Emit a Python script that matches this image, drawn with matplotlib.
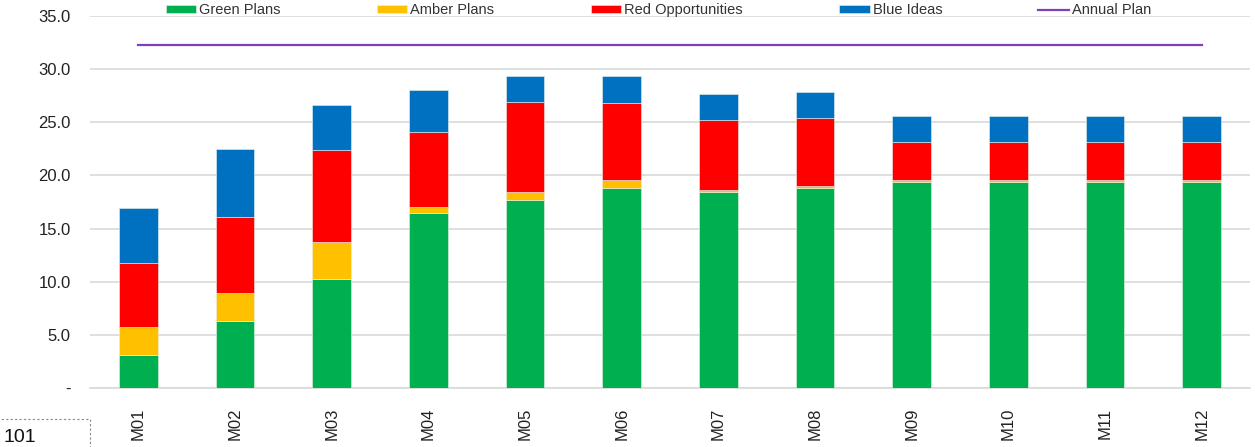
import numpy as np
import matplotlib.pyplot as plt
from matplotlib.patches import Rectangle

plt.rcParams['font.family'] = ['Liberation Sans', 'DejaVu Sans']

months = ["M01", "M02", "M03", "M04", "M05", "M06",
          "M07", "M08", "M09", "M10", "M11", "M12"]
green = [3.1, 6.3, 10.3, 16.5, 17.7, 18.8, 18.45, 18.8, 19.35, 19.35, 19.35, 19.35]
amber = [2.6, 2.6, 3.4, 0.5, 0.7, 0.8, 0.15, 0.2, 0.2, 0.2, 0.2, 0.2]
red = [6.1, 7.2, 8.7, 7.05, 8.5, 7.2, 6.6, 6.4, 3.6, 3.6, 3.6, 3.6]
blue = [5.1, 6.4, 4.2, 4.0, 2.45, 2.6, 2.45, 2.5, 2.45, 2.45, 2.45, 2.45]
annual_plan = [32.3] * 12

series = [("Green Plans", green, "#00B050"),
          ("Amber Plans", amber, "#FFC000"),
          ("Red Opportunities", red, "#FF0000"),
          ("Blue Ideas", blue, "#0070C0")]

fig = plt.figure(figsize=(12.55, 4.47), dpi=100)
ax = fig.add_axes([0.0717, 0.132, 0.9243, 0.832])

x = np.arange(len(months))
bottom = np.zeros(len(months))
handles = []
for name, vals, col in series:
    h = ax.bar(x, vals, 0.4, bottom=bottom, color=col, label=name,
               edgecolor="#E8F2E8", linewidth=0.4, zorder=3)
    handles.append(h)
    bottom += np.array(vals)

line, = ax.plot(x, annual_plan, color="#7F3FBF", linewidth=1.6, label="Annual Plan", zorder=4)
handles.append(line)

ax.set_xlim(-0.5, 11.5)
ax.set_ylim(0, 35)
ax.set_yticks(np.arange(0, 36, 5))
ax.set_yticklabels(["-"] + ["%.1f" % v for v in np.arange(5, 36, 5)], fontsize=12, color="#222222")
ax.set_xticks(x)
ax.set_xticklabels(months, rotation=90, fontsize=12, color="#222222")
ax.tick_params(length=0, pad=14)
ax.tick_params(axis="y", pad=14)

ax.grid(axis="y", color="#D9D9D9", linewidth=1.2, zorder=0)
for s in ["top", "right", "left"]:
    ax.spines[s].set_visible(False)
ax.spines["bottom"].set_color("#D9D9D9")
ax.spines["bottom"].set_linewidth(1.2)

ax.legend(handles=handles, loc="upper center", bbox_to_anchor=(0.49, 1.07), ncol=5,
          frameon=False, fontsize=10.5, handlelength=2.1, handleheight=0.5,
          handletextpad=0.2, columnspacing=6.6, labelcolor="#333333")

# dashed cell box in the lower left corner
fig.patches.append(Rectangle((-0.01, -0.1), 0.082, 0.163, transform=fig.transFigure,
                             fill=False, edgecolor="#888888", linestyle=(0, (2, 2)),
                             linewidth=0.8))
fig.text(0.003, 0.002, "101", fontsize=14, color="#111111", ha="left", va="bottom")

fig.savefig("out.png", dpi=100)
